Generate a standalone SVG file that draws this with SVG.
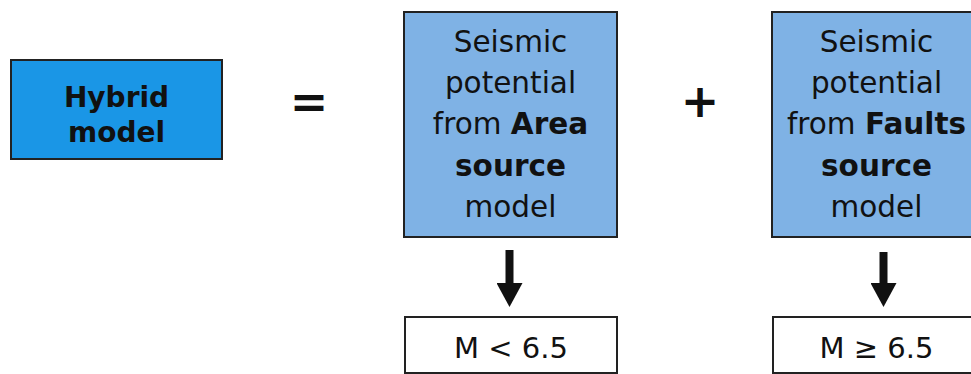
<svg xmlns="http://www.w3.org/2000/svg" width="971" height="374" viewBox="0 0 971 374">
<style>
.t{font-family:"DejaVu Sans","Liberation Sans",sans-serif;fill:#111;text-anchor:middle}
.b{font-weight:bold}
.src{fill:#7fb2e5;stroke:#222;stroke-width:2}
.out{fill:#fff;stroke:#222;stroke-width:2}
</style>
<defs>
<marker id="ah" viewBox="0 0 24 26" refX="0" refY="13" markerWidth="24" markerHeight="26" markerUnits="userSpaceOnUse" orient="auto">
<path d="M0,0 L24,13 L0,26 Z" fill="#111"/>
</marker>
</defs>
<rect width="971" height="374" fill="#fff"/>
<g id="hybrid">
<rect x="11" y="60" width="211" height="99" fill="#1a96e6" stroke="#222" stroke-width="2"/>
<text class="t b" x="116.5" y="107" font-size="28">Hybrid</text>
<text class="t b" x="116.5" y="142" font-size="28">model</text>
</g>
<g id="equals"><text class="t b" x="309" y="118" font-size="46">=</text></g>
<g id="area">
<rect class="src" x="404" y="12" width="213" height="225"/>
<g class="t" font-size="29.5">
<text x="510.5" y="52">Seismic</text>
<text x="510.5" y="93">potential</text>
<text x="510.5" y="134">from <tspan class="b">Area</tspan></text>
<text x="510.5" y="176" class="t b">source</text>
<text x="510.5" y="217">model</text>
</g>
</g>
<g id="plus"><text class="t b" x="700" y="117" font-size="46">+</text></g>
<g id="faults">
<rect class="src" x="772" y="12" width="209" height="225"/>
<g class="t" font-size="29.5">
<text x="876.5" y="52">Seismic</text>
<text x="876.5" y="93">potential</text>
<text x="876.5" y="134">from <tspan class="b">Faults</tspan></text>
<text x="876.5" y="176" class="t b">source</text>
<text x="876.5" y="217">model</text>
</g>
</g>
<g id="low">
<rect class="out" x="405" y="317" width="212" height="56"/>
<text class="t" x="511" y="358" font-size="29">M &lt; 6.5</text>
</g>
<g id="high">
<rect class="out" x="773" y="317" width="209" height="56"/>
<text class="t" x="876.5" y="358" font-size="29">M ≥ 6.5</text>
</g>
<g id="connectors" stroke="#111" stroke-width="8" fill="none">
<line x1="509.5" y1="250" x2="509.5" y2="283" marker-end="url(#ah)"/>
<line x1="883.5" y1="252" x2="883.5" y2="283" marker-end="url(#ah)"/>
</g>
</svg>
